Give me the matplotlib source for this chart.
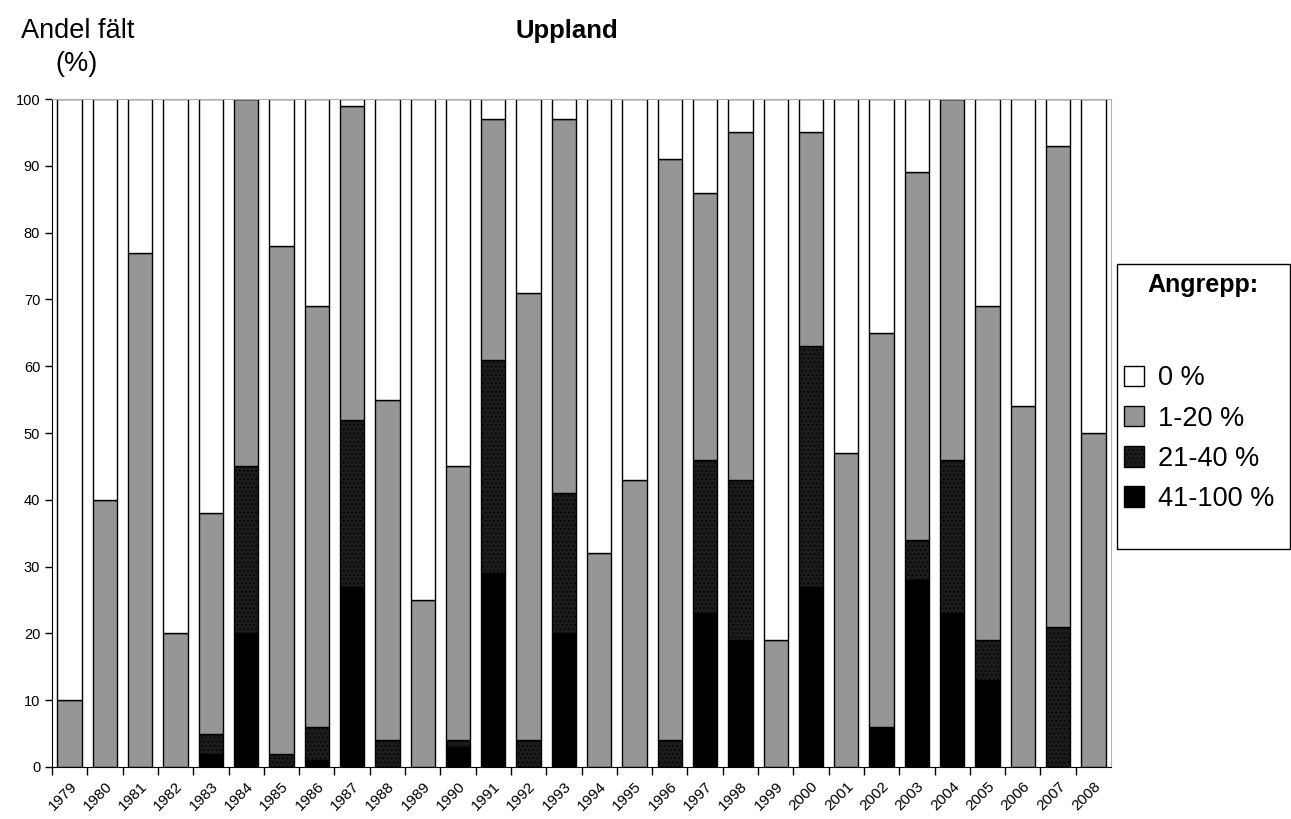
import matplotlib.pyplot as plt
import matplotlib
from matplotlib.patches import Rectangle, Patch
import numpy as np

matplotlib.rcParams["font.family"] = ["Liberation Sans", "DejaVu Sans"]
matplotlib.rcParams["hatch.color"] = "#555555"
matplotlib.rcParams["hatch.linewidth"] = 0.6

years = list(range(1979, 2009))
# share of fields (%) per attack class
severe = [0, 0, 0, 0, 2, 20, 0, 1, 27, 0, 0, 3, 29, 0, 20,
          0, 0, 0, 23, 19, 0, 27, 0, 6, 28, 23, 13, 0, 0, 0]       # 41-100 %
medium = [0, 0, 0, 0, 3, 25, 2, 5, 25, 4, 0, 1, 32, 4, 21,
          0, 0, 4, 23, 24, 0, 36, 0, 0, 6, 23, 6, 0, 21, 0]        # 21-40 %
light = [10, 40, 77, 20, 33, 55, 76, 63, 47, 51, 25, 41, 36, 67, 56,
         32, 43, 87, 40, 52, 19, 32, 47, 59, 55, 54, 50, 54, 72, 50]  # 1-20 %
labels = ["0 %", "1-20 %", "21-40 %", "41-100 %"]

severe = np.array(severe)
medium = np.array(medium)
light = np.array(light)
none = 100 - severe - medium - light

fig = plt.figure(figsize=(12.91, 8.19), dpi=100)
ax = fig.add_axes([0.0403, 0.0635, 0.8203, 0.8156])

x = np.arange(len(years))
w = 0.69
kw = dict(width=w, edgecolor="black", linewidth=1.0)
ax.bar(x, severe, color="black", **kw)
ax.bar(x, medium, bottom=severe, color="#1c1c1c", hatch="....", **kw)
ax.bar(x, light, bottom=severe + medium, color="#969696", **kw)
ax.bar(x, none, bottom=severe + medium + light, color="white", **kw)

ax.set_xlim(-0.5, len(years) - 0.5)
ax.set_ylim(0, 100)
ax.set_yticks(range(0, 101, 10))
ax.tick_params(axis="y", labelsize=10.5, length=5, width=1)
ax.set_xticks(x - 0.5, minor=False)
ax.set_xticklabels([])
ax.set_xticks(x, minor=True)
ax.set_xticklabels([str(y) for y in years], minor=True, rotation=45,
                   ha="right", rotation_mode="anchor", fontsize=11)
ax.tick_params(axis="x", which="major", length=6, width=1)
ax.tick_params(axis="x", which="minor", length=0, pad=9)

for s in ["top", "right"]:
    ax.spines[s].set_color("#b0b0b0")
for s in ["left", "bottom"]:
    ax.spines[s].set_color("black")

fig.text(0.439, 0.962, "Uppland", fontsize=18.5, fontweight="bold",
         ha="center", va="center")
fig.text(0.060, 0.962, "Andel fält", fontsize=19.5, ha="center", va="center")
fig.text(0.059, 0.922, "(%)", fontsize=19.5, ha="center", va="center")

# legend frame
fig.patches.append(Rectangle((0.8652, 0.3297), 0.1340, 0.348,
                             transform=fig.transFigure, fill=False,
                             edgecolor="black", linewidth=1.0))
fig.text(0.932, 0.652, "Angrepp:", fontsize=18, fontweight="bold",
         ha="center", va="center")
handles = [Patch(facecolor="white", edgecolor="black"),
           Patch(facecolor="#969696", edgecolor="black"),
           Patch(facecolor="#1c1c1c", edgecolor="black", hatch="...."),
           Patch(facecolor="black", edgecolor="black")]
fig.legend(handles, labels, loc="upper left", bbox_to_anchor=(0.862, 0.567),
           frameon=False, fontsize=19.5, handlelength=0.75, handleheight=0.8,
           handletextpad=0.5, labelspacing=0.52, borderaxespad=0)

fig.savefig("out.png", dpi=100, facecolor="white")
